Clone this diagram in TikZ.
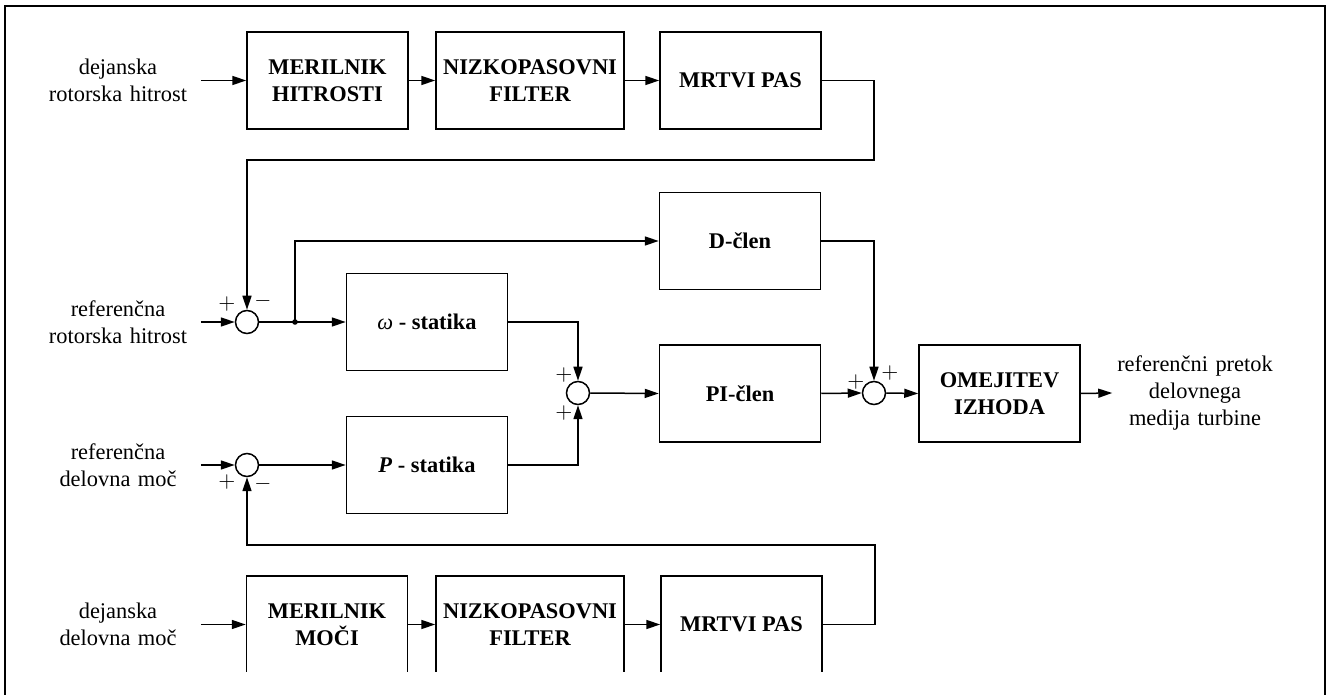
\documentclass[tikz,border=0pt]{standalone}
\usepackage{fontspec}
\setmainfont{Liberation Serif}
\usetikzlibrary{arrows.meta}
\begin{document}
\begin{tikzpicture}[x=0.5pt,y=-0.5pt,>={Triangle[length=7pt,width=4.5pt]},line width=0.75pt,
    blok/.style={draw,minimum width=80.5pt,minimum height=48.5pt,inner sep=0pt,align=center,
        font=\bfseries\fontsize{11.2}{13.5}\selectfont},
    siroki/.style={blok,minimum width=94pt},
    vsota/.style={draw,circle,minimum size=11.5pt,inner sep=0pt},
    oznaka/.style={text width=82pt,inner sep=0pt,align=center,font=\fontsize{11.2}{13.5}\selectfont},
    znak/.style={inner sep=0pt,font=\fontsize{11}{11}\selectfont}]
\useasboundingbox (0,0) rectangle (1330,695);
\draw[line width=1pt] (5,695)--(5,6)--(1325,6)--(1325,695);

% hitrost
\node[oznaka] (vh1) at (118,80.5) {dejanska\\rotorska hitrost};
\node[blok] (mh) at (327.5,80.5) {MERILNIK\\HITROSTI};
\node[siroki] (nf1) at (530,80.5) {NIZKOPASOVNI\\FILTER};
\node[blok] (mp1) at (740.5,80.5) {MRTVI PAS};
\coordinate (pv1) at (874,160);

\node[oznaka] (vh2) at (118,322) {referenčna\\rotorska hitrost};
\node[vsota] (s1) at (247,322) {};
\coordinate (br) at (295,322);
\node[blok] (ws) at (427,322) {{\mdseries\itshape ω} - statika};
\node[blok] (dc) at (740,241) {D-člen};

% moc
\node[oznaka] (vh3) at (118,465) {referenčna\\delovna moč};
\node[vsota] (s4) at (247,465) {};
\node[blok] (ps) at (427,465) {\textit{P} - statika};

\node[vsota] (s2) at (578,393) {};
\node[blok] (pi) at (740,393.5) {PI-člen};
\node[vsota] (s3) at (874,393) {};
\node[blok] (oi) at (999.5,393.5) {OMEJITEV\\IZHODA};
\node[oznaka] (izh) at (1195,393) {referenčni pretok\\delovnega\\medija turbine};

\node[oznaka] (vh4) at (118,624.5) {dejanska\\delovna moč};
\begin{scope}
\clip (0,0) rectangle (1330,671);
\node[blok] (mm) at (327,624.5) {MERILNIK\\MOČI};
\node[siroki] (nf2) at (530,624.5) {NIZKOPASOVNI\\FILTER};
\node[blok] (mp2) at (741.5,624.5) {MRTVI PAS};
\end{scope}
\coordinate (pv2) at (875,545);

% povezave
\draw[->] (vh1.east)--(mh.west);
\draw[->] (mh)--(nf1);
\draw[->] (nf1)--(mp1);
\draw[->] (mp1.east)-|(pv1)-|(s1.north);
\draw[->] (vh2.east)--(s1.west);
\draw[->] (s1.east)--(ws.west);
\fill (br) circle[radius=1.4pt];
\draw[->] (br)|-(dc.west);
\draw[->] (ws.east)-|(s2.north);
\draw[->] (ps.east)-|(s2.south);
\draw[->] (vh3.east)--(s4.west);
\draw[->] (s4.east)--(ps.west);
\draw[->] (s2.east)--(pi.west);
\draw[->] (pi.east)--(s3.west);
\draw[->] (dc.east)-|(s3.north);
\draw[->] (s3.east)--(oi.west);
\draw[->] (oi.east)--(izh.west);
\draw[->] (vh4.east)--(mm.west);
\draw[->] (mm)--(nf2);
\draw[->] (nf2)--(mp2);
\draw[->] (mp2.east)-|(pv2)-|(s4.south);

% predznaki
\node[znak] at ([shift={(-20,-18)}]s1.center) {$+$};
\node[znak] at ([shift={(16,-21)}]s1.center) {$-$};
\node[znak] at ([shift={(-20,17)}]s4.center) {$+$};
\node[znak] at ([shift={(16,19)}]s4.center) {$-$};
\node[znak] at ([shift={(-14,-18)}]s2.center) {$+$};
\node[znak] at ([shift={(-14,20)}]s2.center) {$+$};
\node[znak] at ([shift={(-18,-11)}]s3.center) {$+$};
\node[znak] at ([shift={(16,-20)}]s3.center) {$+$};
\end{tikzpicture}
\end{document}
